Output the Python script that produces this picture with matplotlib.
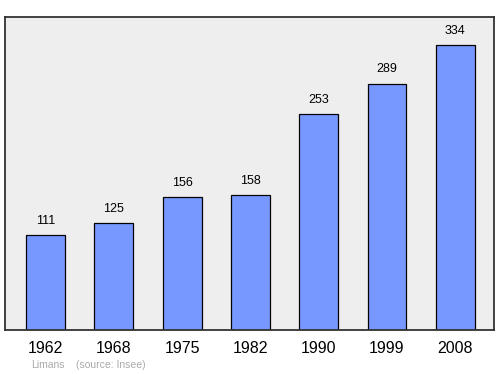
import matplotlib
matplotlib.use("Agg")
import matplotlib.pyplot as plt

years = ["1962", "1968", "1975", "1982", "1990", "1999", "2008"]
population = [111, 125, 156, 158, 253, 289, 334]
commune = "Limans"
source = "(source: Insee)"

plt.rcParams['font.family'] = ['Liberation Sans', 'DejaVu Sans']

fig = plt.figure(figsize=(5, 3.74), dpi=100)
ax = fig.add_axes([0.010, 0.1176, 0.978, 0.837])
ax.set_facecolor('#eeeeee')
x = list(range(len(years)))
ax.bar(x, population, width=0.57, color='#7799ff', edgecolor='black', linewidth=0.9, zorder=2)
for xi, v in zip(x, population):
    ax.annotate(str(v), (xi, v), xytext=(0, 6), textcoords='offset points',
                ha='center', va='bottom', fontsize=9, color='black')
ax.set_xlim(-0.593, 6.567)
ax.set_ylim(0, 367)
ax.set_xticks(x)
ax.set_xticklabels(years, fontsize=11.5)
ax.tick_params(axis='x', length=0, pad=8)
ax.set_yticks([])
for s in ax.spines.values():
    s.set_linewidth(1.3)
    s.set_color('#333333')
fig.text(31/500, 1 - 365/374, commune, fontsize=7.5, color='#aaaaaa', va='center', ha='left')
fig.text(76/500, 1 - 365/374, source, fontsize=7.5, color='#aaaaaa', va='center', ha='left')
fig.savefig("out.png", dpi=100)
